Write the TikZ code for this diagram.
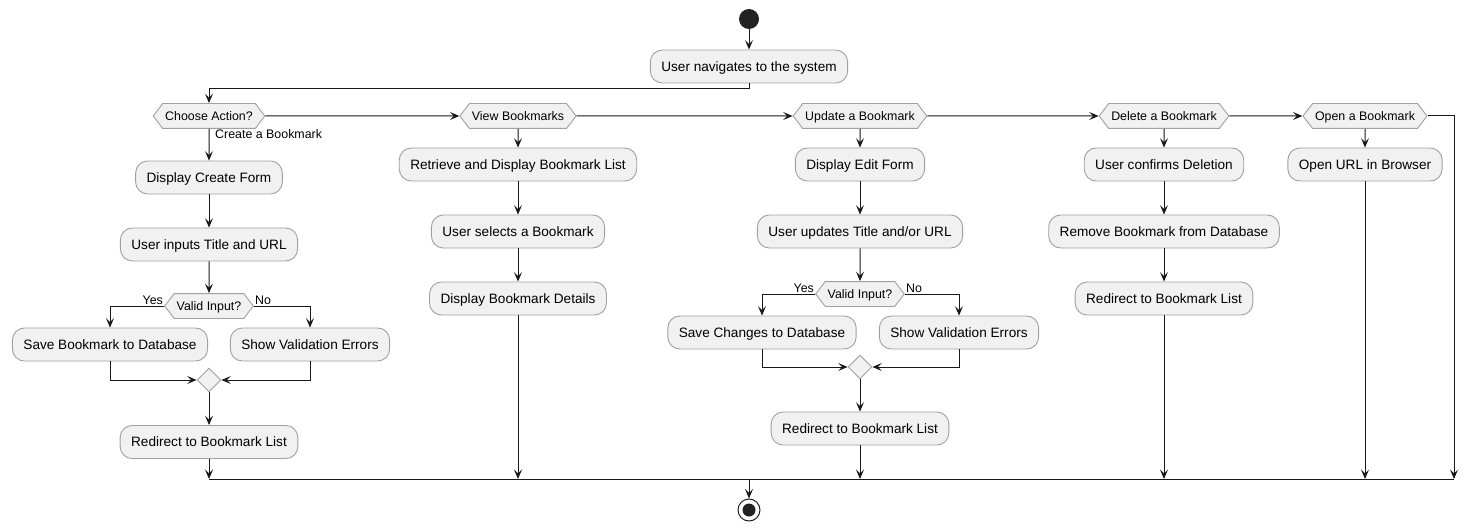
\documentclass[tikz,border=0pt]{standalone}
\usepackage{fontspec}
\setmainfont{Liberation Sans}
\usetikzlibrary{arrows.meta,shapes.geometric,shapes.symbols}
\definecolor{ln}{HTML}{181818}
\definecolor{bfill}{HTML}{F1F1F1}
\definecolor{bdraw}{HTML}{A0A0A0}
\definecolor{dot}{HTML}{222222}
\tikzset{
  act/.style={rectangle, rounded corners=12pt, draw=bdraw, fill=bfill, line width=0.9pt,
    minimum height=33pt, inner xsep=11pt, inner ysep=0pt, text height=9.7pt, text depth=0pt,
    font=\fontsize{13.6}{16}\selectfont, text=black},
  hex/.style={signal, signal to=west and east, signal pointer angle=105, draw=bdraw, fill=bfill,
    line width=0.9pt, inner xsep=2.5pt, inner ysep=8pt, text height=8.9pt, text depth=0pt,
    font=\fontsize{12.4}{14}\selectfont, text=black},
  merge/.style={diamond, draw=bdraw, fill=bfill, line width=0.9pt, minimum width=24pt,
    minimum height=24pt, inner sep=0pt},
  lbl/.style={font=\fontsize{12.4}{14}\selectfont, text=black, inner sep=1pt},
  arr/.style={draw=ln, line width=1pt, -{Stealth[length=9.5pt,width=8pt,inset=4pt]}},
  ln/.style={draw=ln, line width=1pt},
  startnode/.style={circle, fill=dot, minimum size=20pt, inner sep=0pt},
  endnode/.style={circle, draw=dot, fill=white, line width=1pt, minimum size=22pt, inner sep=0pt,
    path picture={\fill[dot] (path picture bounding box.center) circle (6.5pt);}}
}
\begin{document}
\begin{tikzpicture}[x=1pt,y=-1pt]
\useasboundingbox (0,0) rectangle (1480,532);

% top
\node[startnode] (start) at (749,19) {};
\node[act] (nav) at (749,66.5) {User navigates to the system};

% hexagons
\node[hex] (choose) at (209,116) {Choose Action?};
\node[hex] (view) at (518,116) {View Bookmarks};
\node[hex] (update) at (860,116) {Update a Bookmark};
\node[hex] (delete) at (1164,116) {Delete a Bookmark};
\node[hex] (open) at (1365,116) {Open a Bookmark};

% column 1
\node[act] (c1a) at (209,177.5) {Display Create Form};
\node[act] (c1b) at (209,244.5) {User inputs Title and URL};
\node[hex] (v1) at (209,306) {Valid Input?};
\node[act] (s1) at (110,344.5) {Save Bookmark to Database};
\node[act] (e1) at (310,344.5) {Show Validation Errors};
\node[merge] (m1) at (209,380) {};
\node[act] (r1) at (209,442) {Redirect to Bookmark List};

% column 2
\node[act] (c2a) at (518,164.5) {Retrieve and Display Bookmark List};
\node[act] (c2b) at (518,231.5) {User selects a Bookmark};
\node[act] (c2c) at (518,298.5) {Display Bookmark Details};

% column 3
\node[act] (c3a) at (860,164.5) {Display Edit Form};
\node[act] (c3b) at (860,231.5) {User updates Title and/or URL};
\node[hex] (v3) at (860,294) {Valid Input?};
\node[act] (s3) at (762,332.5) {Save Changes to Database};
\node[act] (e3) at (959,332.5) {Show Validation Errors};
\node[merge] (m3) at (860,367) {};
\node[act] (r3) at (860,428.5) {Redirect to Bookmark List};

% column 4
\node[act] (c4a) at (1164,164.5) {User confirms Deletion};
\node[act] (c4b) at (1164,231.5) {Remove Bookmark from Database};
\node[act] (c4c) at (1164,298.5) {Redirect to Bookmark List};

% column 5
\node[act] (c5a) at (1365,164.5) {Open URL in Browser};

% end
\coordinate (barL) at (209,479);
\coordinate (barR) at (1454,479);
\coordinate (barC) at (749,479);
\node[endnode] (end) at (749,510) {};

% connectors top
\draw[arr] (start) -- (nav);
\draw[arr] (nav.south) -- ++(0,5) -| (choose.north);
\draw[arr] (choose) -- (view);
\draw[arr] (view) -- (update);
\draw[arr] (update) -- (delete);
\draw[arr] (delete) -- (open);
\draw[arr] (open.east) -- (open.east -| barR) -- (barR);

% column 1
\draw[arr] (choose) -- (c1a);
\node[lbl, anchor=base west] (lcreate) at ([xshift=5pt,yshift=-10pt]choose.south) {Create a Bookmark};
\draw[arr] (c1a) -- (c1b);
\draw[arr] (c1b) -- (v1);
\draw[arr] (v1.west) -| (s1.north);
\draw[arr] (v1.east) -| (e1.north);
\node[lbl, anchor=base east] (y1) at ([yshift=2pt]v1.west) {Yes};
\node[lbl, anchor=base west] (n1) at ([yshift=2pt]v1.east) {No};
\draw[arr] (s1.south) |- (m1.west);
\draw[arr] (e1.south) |- (m1.east);
\draw[arr] (m1) -- (r1);
\draw[arr] (r1.south) -- (r1.south |- barL);

% column 2
\draw[arr] (view) -- (c2a);
\draw[arr] (c2a) -- (c2b);
\draw[arr] (c2b) -- (c2c);
\draw[arr] (c2c.south) -- (c2c.south |- barL);

% column 3
\draw[arr] (update) -- (c3a);
\draw[arr] (c3a) -- (c3b);
\draw[arr] (c3b) -- (v3);
\draw[arr] (v3.west) -| (s3.north);
\draw[arr] (v3.east) -| (e3.north);
\node[lbl, anchor=base east] (y3) at ([yshift=2pt]v3.west) {Yes};
\node[lbl, anchor=base west] (n3) at ([yshift=2pt]v3.east) {No};
\draw[arr] (s3.south) |- (m3.west);
\draw[arr] (e3.south) |- (m3.east);
\draw[arr] (m3) -- (r3);
\draw[arr] (r3.south) -- (r3.south |- barL);

% column 4
\draw[arr] (delete) -- (c4a);
\draw[arr] (c4a) -- (c4b);
\draw[arr] (c4b) -- (c4c);
\draw[arr] (c4c.south) -- (c4c.south |- barL);

% column 5
\draw[arr] (open) -- (c5a);
\draw[arr] (c5a.south) -- (c5a.south |- barL);

% bottom bar
\draw[ln] (barL) -- (barR);
\draw[arr] (barC) -- (end);
\end{tikzpicture}
\end{document}
